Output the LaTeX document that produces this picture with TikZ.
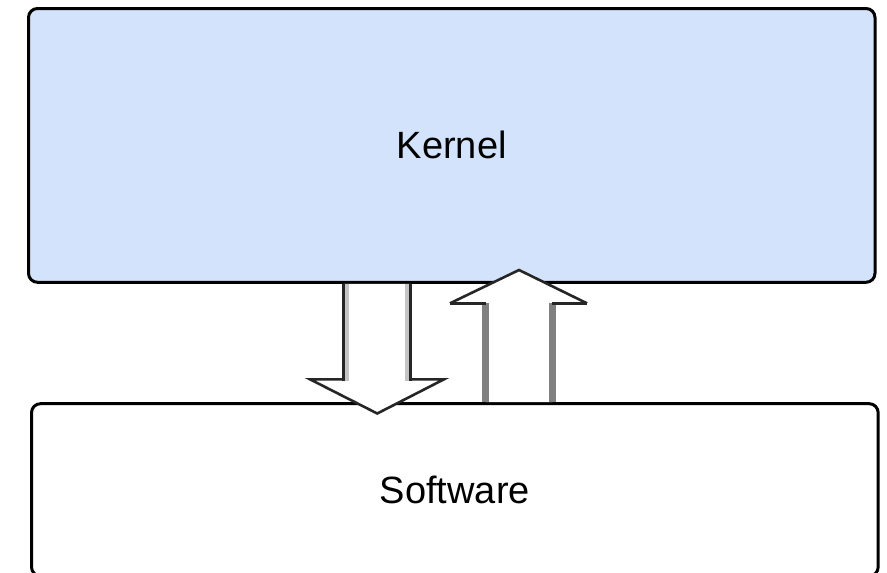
\documentclass[tikz,border=0pt]{standalone}
\usepackage{fontspec}
\setmainfont{Liberation Sans}
\usetikzlibrary{calc}
\definecolor{kernelfill}{HTML}{D4E3FC}
\definecolor{shaftgray}{HTML}{808080}
\definecolor{shaftlight}{HTML}{C4C4C4}
\tikzset{
  layerbox/.style={draw=black, line width=3pt, rounded corners=9pt,
    inner sep=0pt, outer sep=1.5pt, font=\fontsize{38}{46}\selectfont},
  headline/.style={draw=black!85, line width=2.6pt, line join=miter},
  upshaft/.style={draw=shaftgray, line width=6.5pt},
  downshaft/.style={draw=black!85, line width=3pt,
    preaction={draw=shaftlight, line width=3.5pt, transform canvas={xshift=#1}}},
}
\begin{document}
\begin{tikzpicture}[x=1pt,y=-1pt]
  \useasboundingbox (0,0) rectangle (887,573);

  % the two layers
  \node[layerbox, fill=kernelfill, minimum width=846.5pt, minimum height=273.8pt]
    (kernel) at (451.75,145.4) {Kernel};
  \node[layerbox, fill=white, minimum width=846.7pt, minimum height=172.3pt]
    (software) at (454.85,489.85) {Software};

  % down arrow: kernel -> software
  \coordinate (dsl) at (343.5,379.3);
  \coordinate (dsr) at (410.5,379.3);
  \coordinate (dwl) at (310,379.3);
  \coordinate (dwr) at (444,379.3);
  \coordinate (dtip) at (377.25,413.5);
  \fill[white] (kernel.south -| dsl) -- (dsl) -- (dwl) -- (dtip) -- (dwr) -- (dsr)
    -- (kernel.south -| dsr) -- cycle;
  \draw[downshaft=3.5pt] (kernel.south -| dsl) -- ($(dsl)+(0,1.3)$);
  \draw[downshaft=-3.5pt] (kernel.south -| dsr) -- ($(dsr)+(0,1.3)$);
  \draw[headline] (dsl) -- (dwl) -- (dtip) -- (dwr) -- (dsr);

  % up arrow: software -> kernel
  \coordinate (usl) at (485.5,303.3);
  \coordinate (usr) at (552.5,303.3);
  \coordinate (uwl) at (450,303.3);
  \coordinate (uwr) at (587,303.3);
  \coordinate (utip) at (519,270);
  \fill[white] (software.north -| usl) -- (usl) -- (uwl) -- (utip) -- (uwr) -- (usr)
    -- (software.north -| usr) -- cycle;
  \draw[upshaft] (software.north -| usl) -- (usl);
  \draw[upshaft] (software.north -| usr) -- (usr);
  \draw[headline] (uwl) -- (utip) -- (uwr);
  \draw[headline] (uwl) -- ($(usl)+(0.5,0)$);
  \draw[headline] ($(usr)+(-0.5,0)$) -- (uwr);
\end{tikzpicture}
\end{document}
